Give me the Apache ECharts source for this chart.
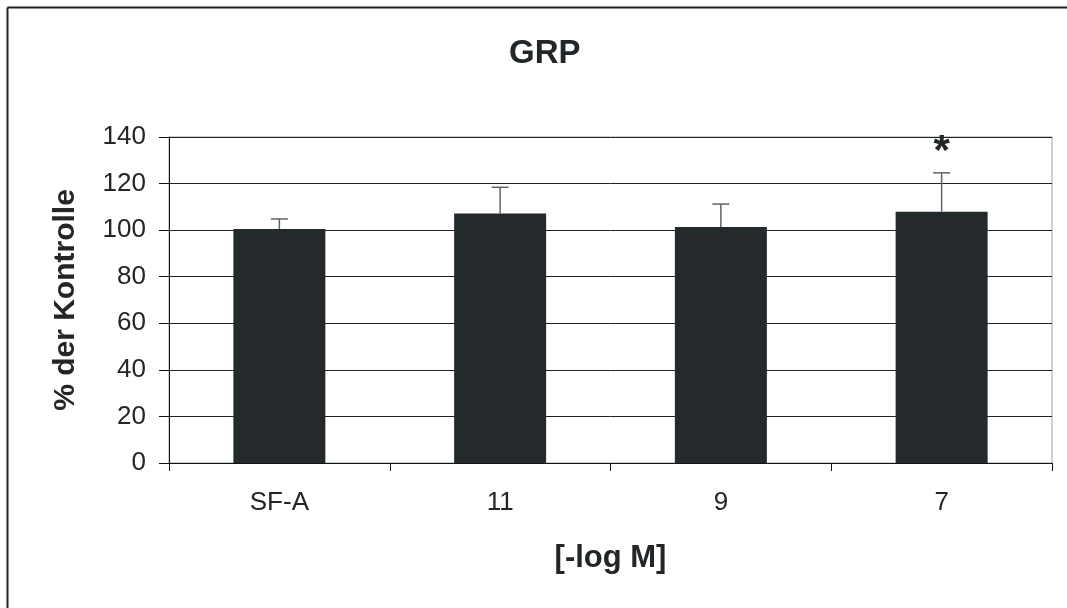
<!DOCTYPE html>
<html>
<head>
<meta charset="utf-8">
<title>GRP</title>
<script src="https://cdn.jsdelivr.net/npm/echarts@6/dist/echarts.min.js"></script>
<style>
  html, body { margin: 0; padding: 0; background: #fff; }
  #chart { width: 1067px; height: 608px; }
</style>
</head>
<body>
<div id="chart"></div>
<script>
// Dose groups and response (% of control), mean with upper SD
const categories = ['SF-A', '11', '9', '7'];
const means = [100.5, 107.2, 101.3, 107.9];
const errors = [4.3, 11.2, 9.9, 16.7];
const marks = ['', '', '', '*'];
const yTicks = { min: 0, max: 140, interval: 20 };

const ink = '#222629';
const font = '"Liberation Sans", Arial, sans-serif';

const chart = echarts.init(document.getElementById('chart'), null, { renderer: 'canvas' });

chart.setOption({
  backgroundColor: '#ffffff',
  animation: false,
  title: {
    text: 'GRP',
    left: 504,
    top: 32,
    textStyle: { fontFamily: font, fontSize: 33, fontWeight: 'bold', color: ink }
  },
  // outer frame: only the top and left edges fall inside the page
  graphic: [
    { type: 'line', shape: { x1: 7.5, y1: 7.5, x2: 1080, y2: 7.5 },
      style: { stroke: '#222', lineWidth: 2 }, silent: true },
    { type: 'line', shape: { x1: 7.5, y1: 7.5, x2: 7.5, y2: 620 },
      style: { stroke: '#222', lineWidth: 2 }, silent: true }
  ],
  grid: {
    left: 169, right: 15, top: 137, bottom: 145,
    show: true, borderColor: '#9aa4aa', borderWidth: 1, backgroundColor: 'transparent'
  },
  xAxis: {
    type: 'category',
    data: categories,
    boundaryGap: true,
    name: '[-log M]',
    nameLocation: 'middle',
    nameGap: 80,
    nameTextStyle: { fontFamily: font, fontSize: 31, fontWeight: 'bold', color: ink },
    axisLine: { show: true, lineStyle: { color: '#111', width: 1 } },
    axisTick: { show: true, alignWithLabel: false, length: 8, lineStyle: { color: '#111' } },
    axisLabel: { fontFamily: font, fontSize: 26, color: ink, margin: 27 },
    splitLine: { show: false }
  },
  yAxis: {
    type: 'value',
    min: yTicks.min, max: yTicks.max, interval: yTicks.interval,
    name: '% der Kontrolle',
    nameLocation: 'middle',
    nameGap: 88,
    nameRotate: 90,
    nameTextStyle: { fontFamily: font, fontSize: 30, fontWeight: 'bold', color: ink },
    axisLine: { show: true, lineStyle: { color: '#111', width: 1 } },
    axisTick: { show: true, length: 10, lineStyle: { color: '#111' } },
    axisLabel: { fontFamily: font, fontSize: 26, color: ink, margin: 23 },
    splitLine: { show: true, lineStyle: { color: '#222', width: 1 } }
  },
  series: [
    {
      type: 'bar',
      data: means,
      barWidth: 92,
      itemStyle: { color: '#24292b' },
      z: 2
    },
    {
      type: 'custom',
      z: 3,
      data: means.map((m, i) => [i, m, m + errors[i]]),
      renderItem: function (params, api) {
        const i = api.value(0);
        const base = api.coord([i, api.value(1)]);
        const top = api.coord([i, api.value(2)]);
        const half = 8.5;
        const children = [
          { type: 'line', shape: { x1: base[0], y1: base[1], x2: top[0], y2: top[1] },
            style: { stroke: '#5f6467', lineWidth: 1.5 } },
          { type: 'line', shape: { x1: top[0] - half, y1: top[1], x2: top[0] + half, y2: top[1] },
            style: { stroke: '#5f6467', lineWidth: 1.5 } }
        ];
        const mark = marks[params.dataIndex];
        if (mark) {
          children.push({
            type: 'text',
            style: {
              text: mark, x: top[0], y: top[1] - 41,
              align: 'center', verticalAlign: 'top',
              fontFamily: font, fontSize: 42, fontWeight: 'bold', fill: ink
            }
          });
        }
        return { type: 'group', children: children };
      }
    }
  ]
});
</script>
</body>
</html>
